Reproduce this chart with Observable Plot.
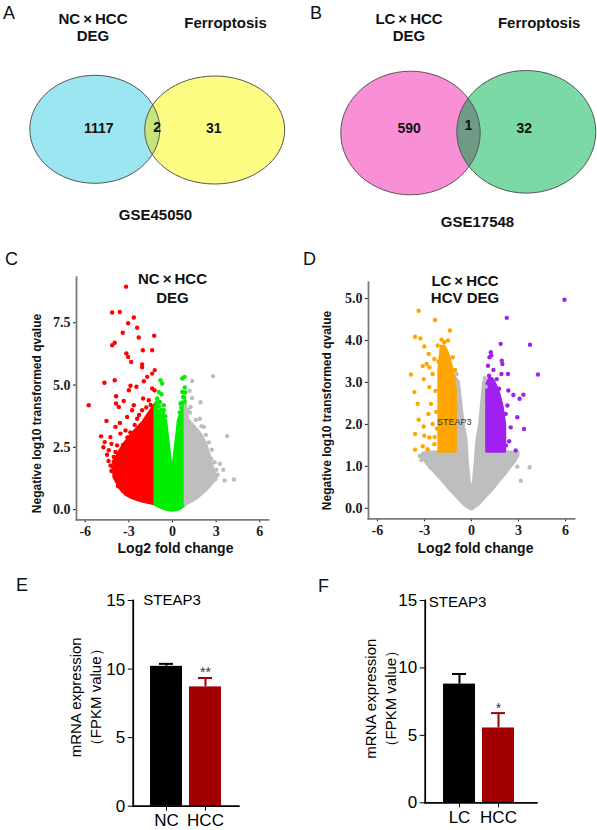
<!DOCTYPE html>
<html><head><meta charset="utf-8">
<script src="https://cdn.jsdelivr.net/npm/d3@7"></script>
<script src="https://cdn.jsdelivr.net/npm/@observablehq/plot@0.6"></script>
<style>
body{margin:0;background:#fff;}
#root{position:relative;width:597px;height:830px;overflow:hidden;font-family:"Liberation Sans",Arial,sans-serif;background:#fff;}
.panel{position:absolute;}
.lbl{position:absolute;font-size:18px;line-height:18px;color:#111;font-family:"Liberation Sans",Arial,sans-serif;}
</style></head><body><div id="root"></div>
<script>
// ---------------- DATA ----------------
// Venn A / B
const vennASets = ["NC\u2009×\u2009HCC\nDEG", "Ferroptosis"];
const vennACounts = [1117, 2, 31];
const vennADataset = "GSE45050";
const vennBSets = ["LC\u2009×\u2009HCC\nDEG", "Ferroptosis"];
const vennBCounts = [590, 1, 32];
const vennBDataset = "GSE17548";

// Volcano C (NC x HCC): dense bands [x, low, high] and individual points [x, y]
const cTitle = ["NC\u2009×\u2009HCC", "DEG"];
const cRedBand = [[-4.0,1.3,1.9],[-3.6,0.85,2.35],[-3.2,0.6,2.7],[-2.8,0.47,3.0],[-2.4,0.38,3.25],[-2.0,0.31,3.5],[-1.6,0.26,3.85],[-1.3,0.22,4.1],[-1.17,0.2,4.2]];
const cGreenBand = [[-1.17,0.2,4.15],[-1.0,0.13,3.95],[-0.8,0.08,3.8],[-0.6,0.03,3.65],[-0.44,0.0,3.58],[-0.3,-0.02,2.87],[-0.15,-0.04,2.12],[0,-0.05,1.37],[0.15,-0.04,2.12],[0.3,-0.02,2.87],[0.44,0.0,3.58],[0.6,0.05,3.85],[0.75,0.12,4.1],[0.9,0.2,4.35]];
const cGrayBand = [[0.9,0.2,4.2],[1.1,0.25,3.6],[1.4,0.35,3.4],[1.7,0.45,3.2],[2.0,0.6,3.0],[2.3,0.75,2.65],[2.6,0.95,2.1],[2.9,1.15,1.4]];
const cRedPts = [[-3.19,8.95],[-4.15,7.91],[-3.62,7.93],[-2.66,7.71],[-3.05,7.48],[-3.42,7.10],[-2.43,7.30],[-2.32,6.91],[-1.26,6.98],[-3.97,6.70],[-4.15,6.60],[-2.04,6.40],[-1.40,6.40],[-3.17,6.27],[-3.05,6.13],[-2.84,5.93],[-2.09,5.83],[-2.09,5.71],[-1.22,5.60],[-1.40,5.46],[-1.74,5.33],[-3.97,5.19],[-4.68,5.09],[-1.97,5.15],[-2.89,4.97],[-2.48,4.93],[-1.40,4.86],[-1.24,4.79],[-3.00,4.79],[-3.88,4.55],[-2.02,4.46],[-1.63,4.39],[-3.35,4.36],[-5.76,4.19],[-3.88,4.26],[-3.69,4.12],[-2.66,4.19],[-4.54,3.56],[-3.62,3.48],[-4.91,2.94],[-4.66,2.71],[-4.20,2.64],[-3.92,2.31],[-4.04,1.91],[-4.08,1.70],[-3.69,2.11],[-3.81,1.50],[-3.62,1.30],[-3.35,1.17],[-3.12,3.72],[-2.78,3.99],[-2.43,3.65],[-2.09,3.99],[-1.63,3.72],[-3.58,3.05],[-3.92,3.32],[-3.23,3.18],[-4.27,2.91],[-4.38,2.38],[-3.81,2.58],[-3.35,2.38],[-4.04,2.11],[-3.46,1.91],[-3.69,1.64],[-1.5,4.2],[-1.8,4.1],[-2.3,3.8],[-2.6,3.4],[-2.9,3.1],[-3.1,2.9],[-3.4,2.6],[-3.6,2.3],[-3.9,1.3],[-3.6,1.1],[-3.3,0.95],[-4.26,1.77],[-4.5,2.2],[-4.4,1.95],[-4.75,2.5],[-4.2,1.55],[-3.75,0.95],[-3.4,0.75],[-3.0,0.6]];
const cGreenPts = [[-0.83,5.19],[-0.71,5.06],[-0.94,4.72],[-0.76,4.63],[-1.06,4.46],[-0.87,4.32],[-0.6,4.19],[0.67,5.26],[0.83,5.33],[0.67,4.72],[0.73,4.52],[0.55,4.26],[-1.06,3.85],[-0.6,3.99],[-1.1,4.3],[-0.95,4.15],[-0.8,4.0],[-0.65,3.85],[-0.5,3.75],[0.5,3.9],[0.6,4.1],[0.7,4.3],[0.8,4.5],[0.88,4.7],[0.85,4.9]];
const cGrayPts = [[1.35,5.16],[2.78,5.36],[1.17,4.77],[1.35,4.48],[1.93,4.31],[1.24,4.12],[3.76,2.95],[3.26,1.84],[3.49,1.6],[2.66,2.04],[2.5,1.84],[2.84,1.5],[4.22,1.21],[3.58,1.17],[2.96,1.23],[1.88,3.65],[2.16,3.32],[0.95,3.8],[1.05,4.0],[1.2,3.9],[1.6,3.6],[2.0,3.35],[2.3,3.0],[2.5,2.7],[2.7,2.4],[2.9,1.9],[3.0,1.6],[3.1,1.4],[2.7,1.1],[2.95,1.3]];

// Volcano D (LC x HCC, HCV)
const dTitle = ["LC\u2009×\u2009HCC", "HCV DEG"];
const dGrayBand = [[-3.1,1.2,1.3],[-2.8,1.05,1.33],[-2.5,0.92,1.33],[-2.2,0.8,1.33],[-1.9,0.68,1.33],[-1.6,0.55,1.33],[-1.3,0.42,1.33],[-1.0,0.3,3.1],[-0.8,0.22,3.0],[-0.5,0.1,2.0],[-0.31,0.04,1.62],[-0.23,0.02,1.06],[-0.1,0.0,0.62],[0,-0.03,0.38],[0.15,0.0,0.62],[0.26,0.03,1.06],[0.37,0.06,1.62],[0.55,0.12,2.0],[0.8,0.22,3.0],[1.0,0.3,3.05],[1.3,0.42,1.33],[1.7,0.6,1.33],[2.1,0.78,1.33],[2.5,0.98,1.33],[2.8,1.12,1.33],[3.0,1.25,1.33]];
const dOrangeBand = [[-2.05,1.35,3.3],[-1.9,1.35,3.85],[-1.7,1.35,3.85],[-1.5,1.35,3.7],[-1.3,1.35,3.45],[-1.1,1.35,3.15],[-1.0,1.35,2.95]];
const dPurpleBand = [[1.0,1.35,2.95],[1.2,1.35,3.1],[1.4,1.35,3.05],[1.6,1.35,2.9],[1.8,1.35,2.7],[2.0,1.35,2.4],[2.15,1.35,2.0]];
const dOrangePts = [[-3.37,4.71],[-2.33,4.49],[-1.38,4.24],[-3.6,4.09],[-3.26,4.05],[-3.01,3.86],[-3.86,3.19],[-3.64,2.77],[-3.43,2.49],[-3.37,2.11],[-3.6,1.77],[-3.6,1.40],[-3.11,1.48],[-2.80,1.41],[-3.05,1.95],[-3.01,1.73],[-2.86,3.44],[-3.11,3.39],[-3.05,3.08],[-2.69,3.36],[-2.37,3.56],[-2.73,3.68],[-2.48,3.2],[-2.69,2.89],[-2.58,2.49],[-2.75,2.25],[-2.48,2.01],[-2.69,1.69],[-2.37,1.53],[-2.16,3.88],[-1.91,4.02],[-1.74,3.96],[-2.3,2.8],[-2.25,2.3],[-2.2,1.9],[-2.35,1.7],[-1.5,4.0],[-1.2,3.6],[-1.05,3.3],[-2.1,3.5]];
const dPurplePts = [[5.93,4.97],[2.25,4.54],[1.86,3.92],[3.73,3.9],[1.23,3.72],[1.27,3.64],[1.93,3.52],[1.97,3.44],[4.24,3.19],[2.33,3.2],[1.91,3.2],[1.61,3.08],[1.27,3.08],[1.12,3.16],[1.76,2.85],[2.35,2.81],[2.67,2.7],[3.07,2.61],[3.31,2.71],[2.29,2.45],[2.92,2.17],[3.35,1.89],[2.82,1.38],[2.08,1.69],[2.5,1.93],[2.18,2.25],[1.05,3.4],[1.4,3.3],[2.2,1.5],[2.4,1.6],[1.15,3.6]];
const dGrayPts = [[-2.86,1.14],[-2.63,0.98],[2.92,0.99],[3.71,0.98],[3.14,0.66],[2.39,1.26],[1.86,1.22],[2.08,1.1],[-3.3,1.25],[-0.95,3.2],[-0.9,2.95],[0.85,3.1],[0.9,2.9],[-3.2,1.15]];
const dLabels = [{gene: "STEAP3", x: -1.1, y: 2.05}];

// Bar charts E / F
const eGroups = ["NC", "HCC"];
const eMeans = [10.2, 8.7];
const eUpper = [10.38, 9.35];
const eSig = ["", "**"];
const fGroups = ["LC", "HCC"];
const fMeans = [8.8, 5.55];
const fUpper = [9.55, 6.65];
const fSig = ["", "*"];
const barTitle = "STEAP3";
const barYLabel = ["mRNA expression", "（FPKM value）"];

// ---------------- STYLE / LAYOUT ----------------
const SANS = "Liberation Sans, Arial, sans-serif";
const TICKFONT = "Liberation Sans Narrow, Liberation Serif, Times New Roman, serif";
const RED = "#ff0000", GREEN = "#00ee00", GRAY = "#bebebe", ORANGE = "#ffa500", PURPLE = "#a020f0";
const BAR_COLORS = ["#000000", "#a00000"];
const root = document.getElementById("root");

function place(el, left, top) {
  const d = document.createElement("div");
  d.className = "panel"; d.style.left = left + "px"; d.style.top = top + "px";
  d.appendChild(el); root.appendChild(d);
}
function letter(t, left, top) {
  const d = document.createElement("div");
  d.className = "lbl"; d.textContent = t; d.style.left = left + "px"; d.style.top = top + "px";
  root.appendChild(d);
}

// ellipse symbol for dot marks
function ellipseSymbol(aspect) {
  return {draw(ctx, size) {
    const rx = Math.sqrt(size / Math.PI), ry = rx * aspect, k = 0.5522847498;
    ctx.moveTo(rx, 0);
    ctx.bezierCurveTo(rx, ry * k, rx * k, ry, 0, ry);
    ctx.bezierCurveTo(-rx * k, ry, -rx, ry * k, -rx, 0);
    ctx.bezierCurveTo(-rx, -ry * k, -rx * k, -ry, 0, -ry);
    ctx.bezierCurveTo(rx * k, -ry, rx, -ry * k, rx, 0);
    ctx.closePath();
  }};
}

function venn(sets, counts, dataset, layout, colors, id) {
  const [W, H] = layout.size;
  const ell = (c, o) => Plot.dot([c], {x: d => d[0], y: d => d[1], r: c[2], symbol: ellipseSymbol(c[3] / c[2]), ...o});
  const c = layout.circles;
  const tx = {fontFamily: SANS, fontWeight: "bold", fill: "#111"};
  const svg = Plot.plot({
    width: W, height: H, margin: 0,
    x: {domain: [0, W], range: [0, W], axis: null},
    y: {domain: [0, H], range: [0, H], axis: null},
    style: {background: "transparent"},
    marks: [
      ell(c[0], {fill: colors[0]}),
      ell(c[1], {fill: colors[1]}),
      ell(c[1], {fill: colors[2]}),
      ell(c[0], {fill: "none", stroke: "#555", strokeWidth: 1}),
      ell(c[1], {fill: "none", stroke: "#555", strokeWidth: 1}),
      Plot.text(counts, {x: (d, i) => layout.counts[i][0], y: (d, i) => layout.counts[i][1], text: d => String(d), fontSize: 14, ...tx}),
      Plot.text(sets, {x: (d, i) => layout.titles[i][0], y: (d, i) => layout.titles[i][1], text: d => d, fontSize: 15, lineHeight: 1.18, ...tx}),
      Plot.text([dataset], {x: () => layout.dataset[0], y: () => layout.dataset[1], text: d => d, fontSize: 15, ...tx})
    ]
  });
  // clip the lens fill to the first ellipse
  const ns = "http://www.w3.org/2000/svg";
  const gs = svg.querySelectorAll('g[aria-label="dot"]');
  const defs = document.createElementNS(ns, "defs");
  const cp = document.createElementNS(ns, "clipPath");
  cp.setAttribute("id", id);
  cp.appendChild(gs[0].querySelector("path").cloneNode(true));
  defs.appendChild(cp);
  svg.insertBefore(defs, svg.firstChild);
  gs[2].setAttribute("clip-path", `url(#${id})`);
  return svg;
}

const vennLayoutA = {size: [297, 245], circles: [[94.3, 128.8, 65, 54], [214.2, 129.5, 70, 54]],
  counts: [[98.3, 128.3], [156.7, 126.7], [213.3, 128.3]], titles: [[92.5, 26.2], [225, 21.7]], dataset: [155, 215]};
const vennLayoutB = {size: [300, 245], circles: [[113, 132.5, 69.7, 61.8], [228.8, 131.3, 69.5, 61.3]],
  counts: [[111.7, 128.3], [171, 125], [226.7, 128.3]], titles: [[111.5, 26.2], [241.7, 21.7]], dataset: [180, 221.7]};

place(venn(vennASets, vennACounts, vennADataset, vennLayoutA, ["#9ce6f2", "#fdfd84", "#c6e47c"], "clipA"), 0, 0);
place(venn(vennBSets, vennBCounts, vennBDataset, vennLayoutB, ["#f990d6", "#7bd9a6", "#6f9a86"], "clipB"), 297, 0);

// volcano helpers
const bandMark = (data, color) => Plot.area(data, {x1: d => d[0], y1: d => d[1], y2: d => d[2], fill: color, stroke: color, strokeWidth: 3, strokeLinejoin: "round"});
const ptsMark = (data, color) => Plot.dot(data, {x: d => d[0], y: d => d[1], r: 2.2, fill: color, stroke: "none"});
const axisFrame = (anchor) => Plot.frame({anchor, stroke: "#7a7a7a", strokeWidth: 1.8});

function boldTicks(svg) {
  svg.querySelectorAll('g[aria-label$="tick label"]').forEach(g => {
    g.setAttribute("font-weight", "bold");
    g.style.fontWeight = "bold";
  });
  return svg;
}

function volcano(o) {
  return boldTicks(Plot.plot({
    width: o.width, height: 310,
    marginLeft: o.ml, marginRight: o.mr, marginTop: o.mt, marginBottom: o.mb,
    x: {domain: o.xd, ticks: [-6, -3, 0, 3, 6], tickFormat: d => String(d), tickSize: 3, tickPadding: 3, label: null},
    y: {domain: o.yd, ticks: o.yt, tickFormat: d3.format(".1f"), tickSize: 3, tickPadding: 3, label: null},
    style: {fontFamily: TICKFONT, fontSize: "14px", fontWeight: "bold", color: "#1a1a1a", background: "transparent"},
    marks: [
      ...o.marks,
      axisFrame("left"), axisFrame("bottom"),
      Plot.text([o.title.join("\n")], {text: d => d, frameAnchor: "top", textAnchor: "middle", lineAnchor: "middle", dx: o.tdx, dy: o.tdy, lineHeight: o.tlh, fontSize: 15, fontWeight: "bold", fontFamily: SANS, fill: "#111"}),
      Plot.text(["Negative log10 transformed qvalue"], {text: d => d, frameAnchor: "left", textAnchor: "middle", lineAnchor: "middle", rotate: -90, dx: o.ydx, dy: o.ydy, fontSize: 12, fontWeight: "bold", fontFamily: SANS, fill: "#111"}),
      Plot.text(["Log2 fold change"], {text: d => d, frameAnchor: "bottom", textAnchor: "middle", lineAnchor: "middle", dx: o.xdx, dy: o.xdy, fontSize: 14, fontWeight: "bold", fontFamily: SANS, fill: "#111"})
    ]
  }));
}

place(volcano({
  width: 297, ml: 76, mr: 29, mt: 26.7, mb: 40.7, xd: [-6.6, 6.6], yd: [-0.41, 9.33], yt: [0, 2.5, 5, 7.5],
  title: cTitle, tdx: 0, tdy: 10, tlh: 1.25, ydx: -39, ydy: 15, xdx: 3, xdy: 29,
  marks: [bandMark(cRedBand, RED), bandMark(cGreenBand, GREEN), bandMark(cGrayBand, GRAY),
          ptsMark(cRedPts, RED), ptsMark(cGreenPts, GREEN), ptsMark(cGrayPts, GRAY)]
}), 0, 250);

place(volcano({
  width: 300, ml: 71, mr: 23, mt: 31.7, mb: 41.7, xd: [-6.57, 6.57], yd: [-0.25, 5.39], yt: [0, 1, 2, 3, 4, 5],
  title: dTitle, tdx: -6.5, tdy: 7, tlh: 1.15, ydx: -41, ydy: 10, xdx: 4, xdy: 30,
  marks: [bandMark(dGrayBand, GRAY), bandMark(dOrangeBand, ORANGE), bandMark(dPurpleBand, PURPLE),
          ptsMark(dGrayPts, GRAY), ptsMark(dOrangePts, ORANGE), ptsMark(dPurplePts, PURPLE),
          Plot.text(dLabels, {x: "x", y: "y", text: "gene", fontSize: 9, fontWeight: "normal", fontFamily: "Liberation Sans Narrow, Liberation Sans, Arial, sans-serif", fill: "#333"})]
}), 297, 250);

// bar charts
function bars(groups, means, uppers, sigs, o) {
  const data = groups.map((g, i) => ({g, mean: means[i], up: uppers[i], sig: sigs[i], color: BAR_COLORS[i]}));
  return Plot.plot({
    width: o.width, height: 270,
    marginLeft: o.ml, marginRight: o.mr, marginTop: o.mt, marginBottom: o.mb,
    x: {domain: groups, paddingInner: 0.17, paddingOuter: o.po, align: o.al, tickSize: 5, tickPadding: 3, label: null},
    y: {domain: [0, 15], ticks: [0, 5, 10, 15], tickSize: 5, tickPadding: 3, label: null},
    color: {type: "identity"},
    style: {fontFamily: SANS, fontSize: "17px", color: "#000", background: "transparent"},
    marks: [
      Plot.barY(data, {x: "g", y: "mean", fill: "color"}),
      Plot.ruleX(data, {x: "g", y1: "mean", y2: "up", stroke: "color", strokeWidth: 2}),
      Plot.tickY(data, {x: "g", y: "up", stroke: "color", strokeWidth: 2, insetLeft: 9, insetRight: 9}),
      Plot.text(data, {x: "g", y: "up", text: "sig", dy: -5, fontSize: 14, fill: "#333"}),
      Plot.frame({anchor: "left", stroke: "#000", strokeWidth: 1.8}),
      Plot.frame({anchor: "bottom", stroke: "#000", strokeWidth: 1.8}),
      Plot.text([barTitle], {text: d => d, frameAnchor: "top", textAnchor: "middle", lineAnchor: "middle", dx: o.tdx, dy: o.tdy, fontSize: 15}),
      Plot.text([barYLabel.join("\n")], {text: d => d, frameAnchor: "left", textAnchor: "middle", lineAnchor: "middle", rotate: -90, dx: o.ydx, dy: o.ydy, lineHeight: 1.33, fontSize: 15})
    ]
  });
}

place(bars(eGroups, eMeans, eUpper, eSig, {width: 297, ml: 132.7, mr: 58.7, mt: 40, mb: 24.3, po: 0.42, al: 0.5, tdx: -14, tdy: 0, ydx: -49, ydy: -6}), 0, 560);
place(bars(fGroups, fMeans, fUpper, fSig, {width: 300, ml: 127.7, mr: 60.7, mt: 40, mb: 27.7, po: 0.49, al: 0.46, tdx: -23.5, tdy: 1.7, ydx: -46, ydy: -3}), 297, 560);

// panel letters
letter("A", 3, 4);
letter("B", 310, 4);
letter("C", 5, 250);
letter("D", 303, 250);
letter("E", 16, 576);
letter("F", 318, 577);
</script></body></html>
